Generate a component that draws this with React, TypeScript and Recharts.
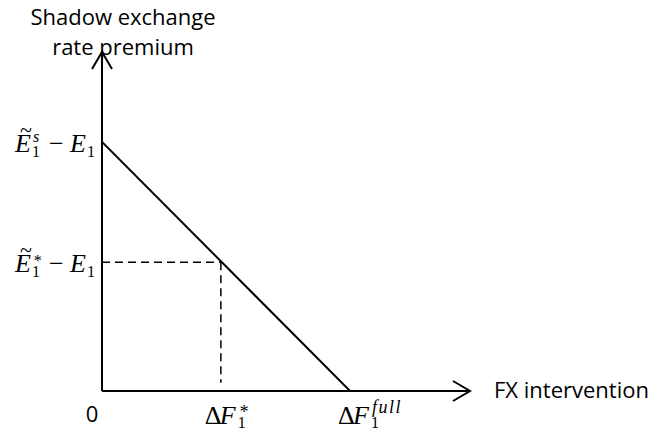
import React from 'react';
import {
  ComposedChart,
  Line,
  XAxis,
  YAxis,
  ReferenceLine,
  ReferenceDot,
} from 'recharts';

// conceptual values (domain 0..100 on both axes)
const fFull = 67.4;
const fStar = 32.3;
const premiumS = 73.5;
const premiumStar = 38;
const dashBottom = 2.4;
const axisMax = 100;

const premiumLine = [
  { f: 0, p: premiumS },
  { f: fFull, p: 0 },
];

const xTicks = [0, fStar, fFull];
const yTicks = [premiumStar, premiumS];

const serif = '"Liberation Serif", "DejaVu Serif", serif';
const sans = '"Open Sans", "Noto Sans", sans-serif';

// Ẽ₁ˢ − E₁ style label, one text element with hand-placed glyphs
function Premium({ sup }: { sup: string }) {
  const supY = sup === '*' ? -6 : -10;
  return (
    <text x={0} y={0} fontFamily={serif} fontSize={26} fill="#000">
      <tspan x={1} y={0} fontStyle="italic">E</tspan>
      <tspan x={6} y={-15} fontSize={22}>~</tspan>
      <tspan x={18} y={5} fontSize={16}>1</tspan>
      <tspan x={19} y={supY} fontSize={16} fontStyle="italic">{sup}</tspan>
      <tspan x={35} y={0}>−</tspan>
      <tspan x={56} y={0} fontStyle="italic">E</tspan>
      <tspan x={73} y={5} fontSize={16}>1</tspan>
    </text>
  );
}

function DeltaF({ sup }: { sup: string }) {
  const supY = sup === '*' ? -6 : -11;
  return (
    <text x={0} y={0} fontFamily={serif} fontSize={26} fill="#000">
      <tspan x={0} y={0}>Δ</tspan>
      <tspan x={15} y={0} fontStyle="italic">F</tspan>
      <tspan x={33} y={4} fontSize={16}>1</tspan>
      <tspan x={34} y={supY} fontSize={18} fontStyle="italic" letterSpacing={1.5}>
        {sup}
      </tspan>
    </text>
  );
}

const XTick = (props: any) => {
  const { x, payload } = props;
  const v = payload.value;
  const base = 391;
  if (v === 0) {
    return (
      <text x={x - 10} y={base + 31} textAnchor="middle" fontFamily={sans} fontSize={22} fill="#000">
        0
      </text>
    );
  }
  if (v === fStar) {
    return (
      <g transform={`translate(${x - 16},${base + 33})`}>
        <DeltaF sup="*" />
      </g>
    );
  }
  return (
    <g transform={`translate(${x - 12},${base + 33})`}>
      <DeltaF sup="full" />
    </g>
  );
};

const YTick = (props: any) => {
  const { y, payload } = props;
  return (
    <g transform={`translate(14,${y + 10})`}>
      <Premium sup={payload.value === premiumS ? 's' : '*'} />
    </g>
  );
};

const ArrowRight = (props: any) => (
  <path
    d={`M${props.cx - 17},${props.cy - 10} L${props.cx},${props.cy} L${props.cx - 17},${props.cy + 10}`}
    fill="none"
    stroke="#000"
    strokeWidth={2}
  />
);

const ArrowUp = (props: any) => (
  <path
    d={`M${props.cx - 10},${props.cy + 17} L${props.cx},${props.cy} L${props.cx + 10},${props.cy + 17}`}
    fill="none"
    stroke="#000"
    strokeWidth={2}
  />
);

export default function App() {
  return (
    <div style={{ position: 'absolute', left: 0, top: 0, width: 671, height: 432, background: '#fff' }}>
      <div
        style={{
          position: 'absolute',
          left: 13,
          top: 1,
          width: 220,
          textAlign: 'center',
          fontFamily: sans,
          fontSize: 22,
          lineHeight: '30px',
          color: '#000',
        }}
      >
        Shadow exchange
        <br />
        rate premium
      </div>
      <div
        style={{
          position: 'absolute',
          left: 494,
          top: 374,
          fontFamily: sans,
          fontSize: 22,
          lineHeight: '30px',
          color: '#000',
        }}
      >
        FX intervention
      </div>
      <ComposedChart
        width={671}
        height={432}
        margin={{ top: 52, right: 201, bottom: 1, left: 2 }}
        style={{ position: 'absolute', left: 0, top: 0 }}
      >
        <XAxis
          type="number"
          dataKey="f"
          domain={[0, axisMax]}
          ticks={xTicks}
          tick={<XTick />}
          tickLine={false}
          axisLine={{ stroke: '#000', strokeWidth: 2 }}
          height={40}
          allowDataOverflow
        />
        <YAxis
          type="number"
          dataKey="p"
          domain={[0, axisMax]}
          ticks={yTicks}
          tick={<YTick />}
          tickLine={false}
          axisLine={{ stroke: '#000', strokeWidth: 2 }}
          width={100}
          allowDataOverflow
        />
        <ReferenceLine
          segment={[
            { x: 0, y: premiumStar },
            { x: fStar, y: premiumStar },
          ]}
          stroke="#000"
          strokeWidth={1.5}
          strokeDasharray="8 5"
        />
        <ReferenceLine
          segment={[
            { x: fStar, y: premiumStar },
            { x: fStar, y: dashBottom },
          ]}
          stroke="#000"
          strokeWidth={1.5}
          strokeDasharray="8 5"
        />
        <Line
          data={premiumLine}
          dataKey="p"
          type="linear"
          stroke="#000"
          strokeWidth={2}
          dot={false}
          activeDot={false}
          isAnimationActive={false}
        />
        <ReferenceDot x={axisMax} y={0} shape={<ArrowRight />} />
        <ReferenceDot x={0} y={axisMax} shape={<ArrowUp />} />
      </ComposedChart>
    </div>
  );
}
